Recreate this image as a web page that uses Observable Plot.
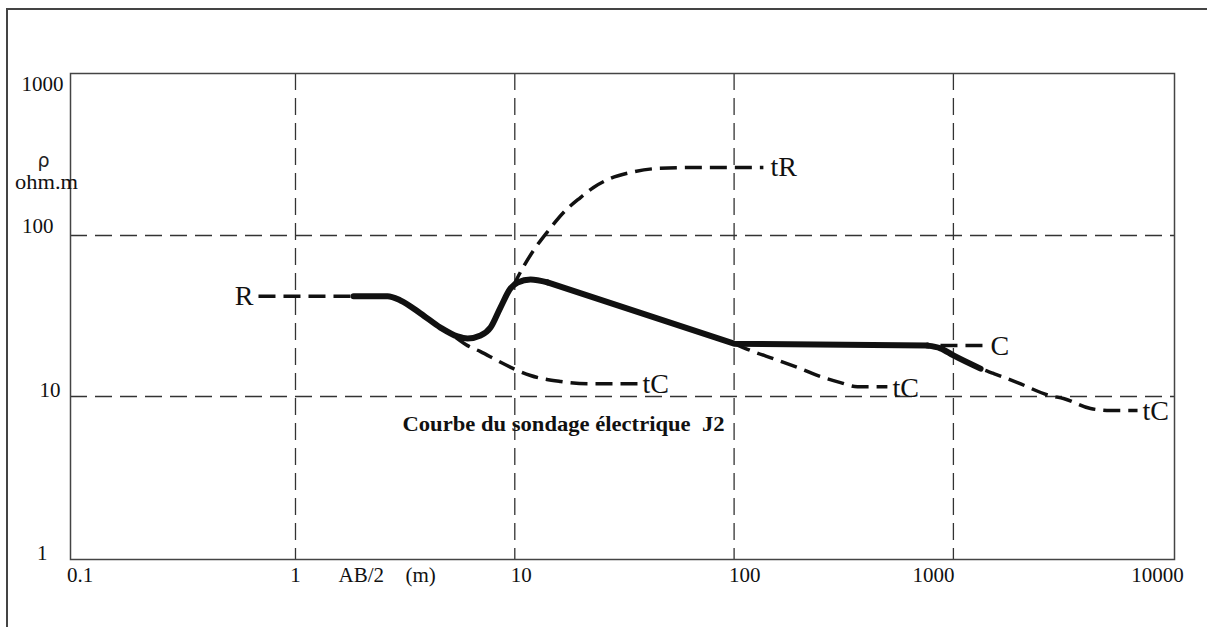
<!DOCTYPE html>
<html>
<head>
<meta charset="utf-8">
<script src="https://cdn.jsdelivr.net/npm/d3@7"></script>
<script src="https://cdn.jsdelivr.net/npm/@observablehq/plot@0.6"></script>
<style>
  html, body { margin: 0; padding: 0; background: #fff; }
  #wrap { position: relative; width: 1207px; height: 627px; overflow: hidden; }
  #border { position: absolute; left: 6px; top: 8px; width: 1300px; height: 700px;
            border-left: 2px solid #444; border-top: 2px solid #444; pointer-events: none; }
</style>
</head>
<body>
<div id="wrap"><div id="border"></div></div>
<script>
// ---- data ----
const xTickValues = [0.1, 1, 10, 100, 1000, 10000];
const xTickLabels = ["0.1", "1", "10", "100", "1000", "10000"];
const yTickValues = [1, 10, 100, 1000];
const yTickLabels = ["1", "10", "100", "1000"];
const xGrid = [1, 10, 100, 1000];
const yGrid = [10, 100];

// measured curve (thick), in three stretches: smooth, straight, smooth
const measAX = [1.84, 2.63, 3.01, 3.72, 4.58, 5.48, 6.09, 6.98, 7.75, 8.6, 9.56, 10.3, 11.8, 14.1];
const measAY = [42, 42, 39.5, 32.8, 26.8, 23.6, 22.9, 23.9, 26.8, 35.7, 46.9, 51.1, 53.3, 51.1];
const measBX = [14.1, 100, 762];
const measBY = [51.1, 21.3, 20.7];
const measCX = [762, 873, 1000, 1330];
const measCY = [20.7, 19.9, 18.0, 14.9];

// theoretical / extrapolated dashed curves
const rX = [0.678, 1.84];
const rY = [42, 42];
const tRX = [9.76, 10.84, 12.17, 14.24, 17.03, 19.93, 22.85, 27.3, 33.7, 44.7, 70.3, 136];
const tRY = [47.5, 62.4, 80.7, 107.4, 143, 172, 198.7, 226, 246, 260.7, 264.5, 264.5];
const tC1X = [5.37, 6.09, 6.98, 8.34, 9.86, 11.8, 16.2, 22.1, 36.6];
const tC1Y = [23.3, 20.7, 19.0, 16.7, 14.9, 13.5, 12.4, 12.0, 12.0];
const tC2X = [100, 118.8, 154.5, 200.9, 247.7, 305.6, 365, 500];
const tC2Y = [21.3, 19.3, 17.0, 14.9, 13.3, 12.2, 11.5, 11.5];
const cX = [873, 1400];
const cY = [20.7, 20.7];
const tC3X = [873, 1000, 1330, 1524, 1960, 2773, 3177, 4220, 5204, 6912];
const tC3Y = [19.9, 18.0, 14.9, 13.9, 12.2, 10.1, 9.72, 8.42, 8.18, 8.18];

// curve labels
const labelText = ["tR", "tC", "tC", "C", "tC"];
const labelX = [146.6, 38.2, 527, 1476, 7284];
const labelY = [264.5, 12.0, 11.3, 20.7, 8.18];
const rLabel = {text: "R", x: 0.643, y: 42};

const titleText = "Courbe du sondage électrique  J2";

// ---- build ----
const zip = (xs, ys) => xs.map((x, i) => ({x, y: ys[i]}));
const dashedSets = [zip(rX, rY), zip(tRX, tRY), zip(tC1X, tC1Y), zip(tC2X, tC2Y), zip(cX, cY), zip(tC3X, tC3Y)];
const labels = labelText.map((t, i) => ({t, x: labelX[i], y: labelY[i]}));
const xTicks = xTickValues.map((v, i) => ({v, s: xTickLabels[i]}));
const yTicks = yTickValues.map((v, i) => ({v, s: yTickLabels[i]}));

const ink = "#111";
const gridStyle = {stroke: "#333", strokeWidth: 1.3, strokeDasharray: "17,8"};
const serif = "Liberation Serif, Times New Roman, serif";

// small per-label nudges for tick labels (hand-set in the original)
const xTickStyle = {
  "0.1": {anchor: "middle", dx: 4},
  "1": {anchor: "middle", dx: 0},
  "10": {anchor: "start", dx: -4},
  "100": {anchor: "start", dx: -5},
  "1000": {anchor: "end", dx: 1},
  "10000": {anchor: "end", dx: 11}
};
const yTickStyle = {
  "1000": {dx: -7, dy: 10},
  "100": {dx: -17, dy: -9},
  "10": {dx: -10, dy: -6},
  "1": {dx: -23, dy: -4}
};

const thick = {x: "x", y: "y", stroke: ink, strokeWidth: 6, strokeLinejoin: "round", strokeLinecap: "round"};

const marks = [
  Plot.ruleX(xGrid, gridStyle),
  Plot.ruleY(yGrid, gridStyle),
  Plot.frame({stroke: "#444", strokeWidth: 1.5}),
  ...xTicks.map(d => Plot.text([d], {
    x: "v", text: "s", frameAnchor: "bottom", dy: 22,
    textAnchor: xTickStyle[d.s].anchor, dx: xTickStyle[d.s].dx,
    fontSize: 21, fill: ink, fontFamily: serif
  })),
  ...yTicks.map(d => Plot.text([d], {
    y: "v", text: "s", frameAnchor: "left", textAnchor: "end",
    dx: yTickStyle[d.s].dx, dy: yTickStyle[d.s].dy,
    fontSize: 21, fill: ink, fontFamily: serif
  })),
  ...dashedSets.map(set => Plot.line(set, {
    x: "x", y: "y", curve: "monotone-x", stroke: ink, strokeWidth: 3.5,
    strokeDasharray: "17,8", strokeLinecap: "butt"
  })),
  Plot.line(zip(measAX, measAY), {...thick, curve: "monotone-x"}),
  Plot.line(zip(measBX, measBY), {...thick, curve: "linear"}),
  Plot.line(zip(measCX, measCY), {...thick, curve: "monotone-x"}),
  Plot.text(labels, {x: "x", y: "y", text: "t", textAnchor: "start", fontSize: 28, fill: ink, fontFamily: serif}),
  Plot.text([rLabel], {x: "x", y: "y", text: "text", textAnchor: "end", fontSize: 28, fill: ink, fontFamily: serif}),
  Plot.text([titleText], {text: d => d, frameAnchor: "top-left", dx: 332, dy: 342, textAnchor: "start",
    fontSize: 22, fontWeight: "bold", fill: ink, fontFamily: serif, className: "title-mark"}),
  Plot.text(["ρ"], {text: d => d, frameAnchor: "top-left", dx: -27, dy: 80, textAnchor: "middle",
    fontSize: 19, fill: "#222", fontFamily: "DejaVu Sans, sans-serif"}),
  Plot.text(["ohm.m"], {text: d => d, frameAnchor: "top-left", dx: -24, dy: 101, textAnchor: "middle",
    fontSize: 20, fill: ink, fontFamily: serif, className: "unit-mark"}),
  Plot.text(["AB/2"], {text: d => d, frameAnchor: "bottom-left", dx: 268, dy: 22, textAnchor: "start",
    fontSize: 21, fill: ink, fontFamily: serif}),
  Plot.text(["(m)"], {text: d => d, frameAnchor: "bottom-left", dx: 335, dy: 22, textAnchor: "start",
    fontSize: 21, fill: ink, fontFamily: serif})
];

const chart = Plot.plot({
  width: 1207,
  height: 627,
  marginLeft: 70,
  marginTop: 73,
  marginRight: 33,
  marginBottom: 68,
  x: {type: "log", domain: [0.0942, 10190], axis: null},
  y: {type: "log", domain: [0.972, 1014], axis: null},
  style: {background: "transparent", fontFamily: serif, overflow: "visible"},
  marks
});

document.getElementById("wrap").appendChild(chart);
chart.style.position = "absolute";
chart.style.left = "0px";
chart.style.top = "0px";

// the original caption spans a fixed width
d3.select(chart).selectAll(".title-mark text")
  .attr("textLength", 322).attr("lengthAdjust", "spacingAndGlyphs");
d3.select(chart).selectAll(".unit-mark text")
  .attr("textLength", 63).attr("lengthAdjust", "spacingAndGlyphs");
</script>
</body>
</html>
